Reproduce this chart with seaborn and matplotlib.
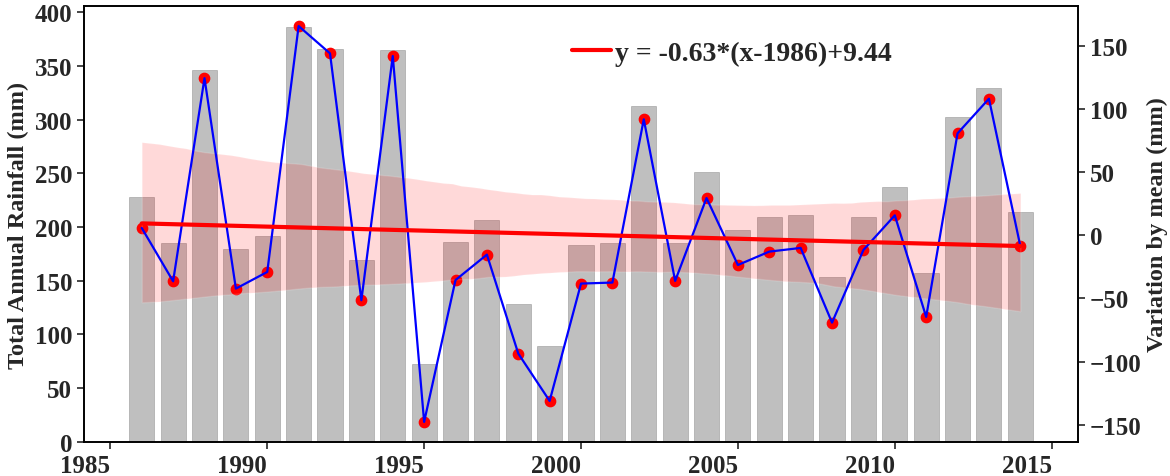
import numpy as np
import pandas as pd
import seaborn as sns
import matplotlib.pyplot as plt

years = list(range(1986, 2015))
rainfall = [227.8, 184.9, 346.4, 179.3, 191.7, 386.2, 365.7, 169.6, 364.4, 72.7,
            186.1, 206.9, 128.0, 89.5, 183.3, 184.9, 313.1, 184.9, 251.1, 197.3,
            209.7, 211.3, 153.2, 209.7, 237.1, 157.2, 302.3, 329.6, 213.8]
variation = [5.8, -36.4, 124.4, -42.2, -29.0, 165.6, 144.0, -51.4, 141.9, -147.7,
             -35.4, -15.3, -93.6, -131.1, -38.2, -37.4, 91.8, -36.1, 29.5, -23.5,
             -12.9, -10.0, -69.1, -11.6, 15.8, -64.6, 80.7, 108.1, -8.4]
trend_label = 'y = -0.63*(x-1986)+9.44'
xticks = [1985, 1990, 1995, 2000, 2005, 2010, 2015]
rain_ticks = [0, 50, 100, 150, 200, 250, 300, 350, 400]
var_ticks = [-150, -100, -50, 0, 50, 100, 150]

df = pd.DataFrame({'year': years, 'rain': rainfall, 'var': variation})

sns.set_style('ticks')
plt.rcParams['font.family'] = ['Liberation Serif', 'DejaVu Serif']
plt.rcParams['font.weight'] = 'bold'
plt.rcParams['axes.labelweight'] = 'bold'

fig, ax = plt.subplots(figsize=(11.7, 4.77), dpi=100)
fig.subplots_adjust(left=0.0718, right=0.9214, top=0.9847, bottom=0.0719)

# bars: total rainfall per year
sns.barplot(data=df, x='year', y='rain', native_scale=True, color='gray',
            alpha=0.5, width=0.8, edgecolor='gray', linewidth=0.6, ax=ax)
ax.set_xlabel('')
ax.set_ylabel('Total Annual Rainfall (mm)', fontsize=17.5, fontweight='bold')
ax.set_xticks(xticks)
ax.set_xticklabels([str(t) for t in xticks], ha='right')
ax.set_yticks(rain_ticks)

# right axis: deviation from mean + linear trend
ax2 = ax.twinx()
sns.regplot(data=df, x='year', y='var', ax=ax2, color='red', seed=3,
            scatter_kws={'s': 55, 'alpha': 1, 'zorder': 1},
            line_kws={'lw': 3, 'label': trend_label, 'zorder': 3})
sns.lineplot(data=df, x='year', y='var', ax=ax2, color='blue', lw=1.6, zorder=2)
ax2.set_xlabel('')
ax2.set_ylabel('Variation by mean (mm)', fontsize=17.5, fontweight='bold')
ax2.set_yticks(var_ticks)

for a in (ax, ax2):
    a.tick_params(labelsize=18, length=5, width=1.2)
    for s in a.spines.values():
        s.set_linewidth(1.2)
        s.set_color('black')
    for lab in a.get_xticklabels() + a.get_yticklabels():
        lab.set_fontweight('bold')

ax2.legend(loc='center', bbox_to_anchor=(0.652, 0.893), frameon=False,
           prop={'size': 20, 'weight': 'bold'}, handlelength=1.4,
           handletextpad=0.15)

fig.savefig('out.png', dpi=100)
